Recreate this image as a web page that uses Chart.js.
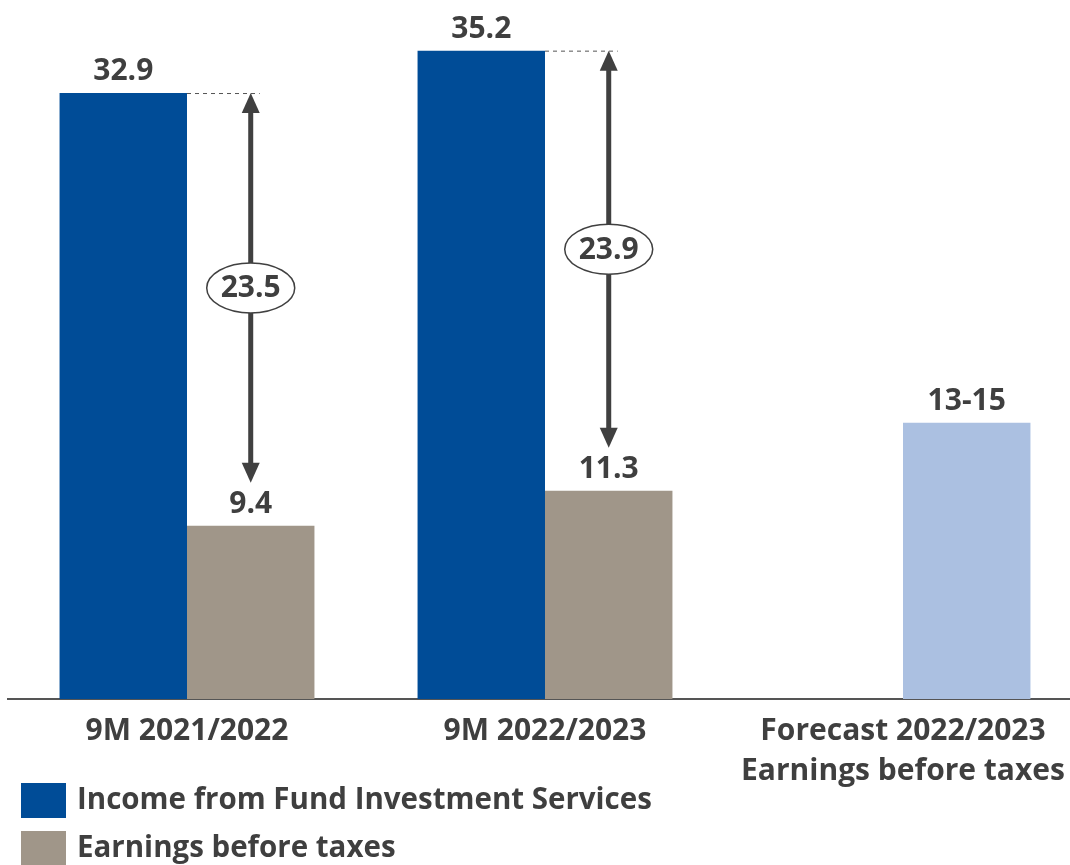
<!DOCTYPE html>
<html>
<head>
<meta charset="utf-8">
<script src="https://cdn.jsdelivr.net/npm/chart.js@4.4.0/dist/chart.umd.min.js"></script>
<style>
  html, body { margin: 0; padding: 0; background: #fff; overflow: hidden; }
  #wrap { position: relative; width: 1082px; height: 865px; }
</style>
</head>
<body>
<div id="wrap"><canvas id="chart"></canvas></div>
<script>
// data
const categories     = [['9M 2021/2022'], ['9M 2022/2023'], ['Forecast 2022/2023', 'Earnings before taxes']];
const incomeValues   = [32.9, 35.2, null];
const earningsValues = [9.4, 11.3, 15];
const incomeLabels   = ['32.9', '35.2', ''];
const earningsLabels = ['9.4', '11.3', '13-15'];
const gapValues      = ['23.5', '23.9'];
const legendLabels   = ['Income from Fund Investment Services', 'Earnings before taxes'];

const BLUE  = '#004c97';
const GREY  = '#a09689';
const LIGHT = '#abc0e1';
const TEXT  = '#3f3f3f';
const ARROW = '#404040';
const FONT  = 'bold 30px "Open Sans"';

// value labels, dashed guide, double arrows with ellipse badge
const annotate = {
  id: 'annotate',
  afterDatasetsDraw(chart) {
    const ctx = chart.ctx;
    const m0 = chart.getDatasetMeta(0), m1 = chart.getDatasetMeta(1);
    ctx.save();
    ctx.font = FONT;
    ctx.fillStyle = TEXT;
    ctx.textAlign = 'center';
    ctx.textBaseline = 'alphabetic';
    [[m0, incomeLabels], [m1, earningsLabels]].forEach(([meta, labels]) => {
      meta.data.forEach((bar, i) => {
        if (!labels[i]) return;
        ctx.fillText(labels[i], bar.x, bar.y - 13);
      });
    });

    gapValues.forEach((g, i) => {
      const top = m0.data[i], bot = m1.data[i];
      const x = bot.x;
      const y1 = top.y, y2 = bot.y - 43;

      ctx.setLineDash([4, 4]);
      ctx.lineWidth = 1;
      ctx.strokeStyle = '#555';
      ctx.beginPath();
      ctx.moveTo(top.x + top.width / 2, y1 + 0.5);
      ctx.lineTo(x + 9, y1 + 0.5);
      ctx.stroke();
      ctx.setLineDash([]);

      ctx.lineWidth = 5;
      ctx.strokeStyle = ARROW;
      ctx.beginPath();
      ctx.moveTo(x, y1 + 18);
      ctx.lineTo(x, y2 - 18);
      ctx.stroke();

      ctx.fillStyle = ARROW;
      ctx.beginPath();
      ctx.moveTo(x, y1); ctx.lineTo(x - 9, y1 + 20); ctx.lineTo(x + 9, y1 + 20);
      ctx.closePath(); ctx.fill();
      ctx.beginPath();
      ctx.moveTo(x, y2); ctx.lineTo(x - 9, y2 - 20); ctx.lineTo(x + 9, y2 - 20);
      ctx.closePath(); ctx.fill();

      const cy = (y1 + y2) / 2;
      ctx.beginPath();
      ctx.ellipse(x, cy, 44, 25, 0, 0, Math.PI * 2);
      ctx.fillStyle = '#fff';
      ctx.fill();
      ctx.lineWidth = 1.5;
      ctx.strokeStyle = ARROW;
      ctx.stroke();
      ctx.fillStyle = TEXT;
      ctx.textBaseline = 'middle';
      ctx.fillText(g, x, cy + 1);
      ctx.textBaseline = 'alphabetic';
    });
    ctx.restore();
  }
};

// legend in the bottom left corner
const legendBox = {
  id: 'legendBox',
  afterDraw(chart) {
    const ctx = chart.ctx;
    const colors = [BLUE, GREY];
    ctx.save();
    ctx.font = 'bold 29.5px "Open Sans"';
    ctx.textAlign = 'left';
    ctx.textBaseline = 'middle';
    legendLabels.forEach((t, i) => {
      const y = 783 + i * 48;
      ctx.fillStyle = colors[i];
      ctx.fillRect(21, y, 45, 35);
      ctx.fillStyle = TEXT;
      ctx.fillText(t, 77, y + 18);
    });
    ctx.restore();
  }
};

new Chart(document.getElementById('chart'), {
  type: 'bar',
  data: {
    labels: categories,
    datasets: [
      { label: legendLabels[0], data: incomeValues, backgroundColor: BLUE },
      { label: legendLabels[1], data: earningsValues, backgroundColor: [GREY, GREY, LIGHT] }
    ]
  },
  options: {
    responsive: true,
    maintainAspectRatio: false,
    animation: false,
    layout: { padding: { top: 0, left: 8, right: 0, bottom: 0 } },
    datasets: { bar: { barPercentage: 1, categoryPercentage: 0.712 } },
    plugins: { legend: { display: false }, tooltip: { enabled: false } },
    scales: {
      x: {
        grid: { display: false, drawTicks: false },
        border: { display: true, color: '#555', width: 2 },
        ticks: {
          color: TEXT,
          padding: 12,
          font: { family: 'Open Sans', size: 30, weight: 'bold', lineHeight: 1.34 }
        },
        afterFit(scale) { scale.height = 166; }
      },
      y: { display: false, min: 0, max: 37.95 }
    }
  },
  plugins: [annotate, legendBox]
});
</script>
</body>
</html>
